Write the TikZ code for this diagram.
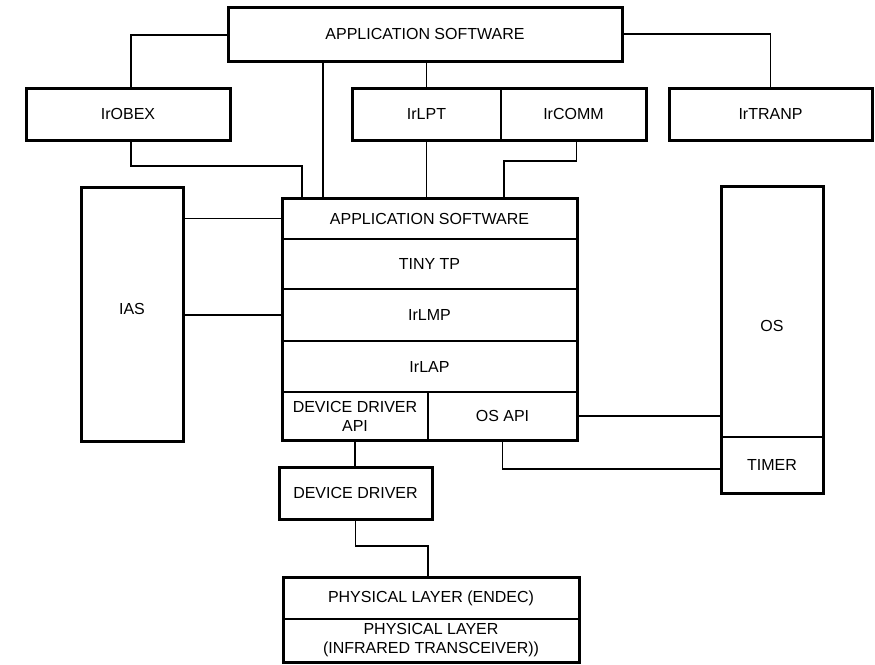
\documentclass[tikz,border=0pt]{standalone}
\usepackage{fontspec}
\setmainfont{Liberation Sans}
\usetikzlibrary{fit}
\begin{document}
\begin{tikzpicture}[x=1pt,y=-1pt,
  font=\fontsize{16}{19}\selectfont,
  cell/.style={draw, line width=1.1pt, inner sep=0pt, outer sep=0pt, align=center},
  thickbox/.style={draw, line width=3pt, inner sep=0pt, outer sep=0pt, align=center},
  outer/.style={draw, line width=3pt, inner sep=0pt, outer sep=0pt, fit=#1},
  link/.style={line width=1.3pt}]
\useasboundingbox (0,0) rectangle (875,664);
% top level
\node[thickbox, minimum width=394pt, minimum height=54pt] (app) at (425,34) {APPLICATION SOFTWARE};
\node[thickbox, minimum width=204pt, minimum height=52pt] (irobex) at (128,114) {IrOBEX};
\node[cell, minimum width=149pt, minimum height=52pt] (irlpt) at (426.5,114) {IrLPT};
\node[cell, minimum width=145pt, minimum height=52pt] (ircomm) at (573.5,114) {IrCOMM};
\node[outer={(irlpt)(ircomm)}] (irgrp) {};
\node[thickbox, minimum width=203pt, minimum height=52pt] (irtranp) at (770.5,114) {IrTRANP};
% IAS
\node[thickbox, minimum width=102pt, minimum height=254pt] (ias) at (132,314) {};
\node (iastext) at (132,309) {IAS};
% main stack
\node[cell, minimum width=295pt, minimum height=41pt] (mas) at (429.5,218.5) {APPLICATION SOFTWARE};
\node[cell, minimum width=295pt, minimum height=50pt] (tinytp) at (429.5,264) {TINY TP};
\node[cell, minimum width=295pt, minimum height=52pt] (irlmp) at (429.5,315) {IrLMP};
\node[cell, minimum width=295pt, minimum height=51pt] (irlap) at (429.5,366.5) {IrLAP};
\node[cell, minimum width=146pt, minimum height=48pt] (ddapi) at (355,416) {DEVICE DRIVER\\API};
\node[cell, minimum width=149pt, minimum height=48pt] (osapi) at (502.5,416) {OS API};
\node[outer={(mas)(osapi)(ddapi)}] (mainbox) {};
% OS
\node[cell, minimum width=102pt, minimum height=251pt] (os) at (772,311.5) {};
\node (ostext) at (772,326) {OS};
\node[cell, minimum width=102pt, minimum height=56pt] (timer) at (772,465) {TIMER};
\node[outer={(os)(timer)}] (osbox) {};
% device driver
\node[thickbox, minimum width=153pt, minimum height=52pt] (dd) at (355.5,493) {DEVICE DRIVER};
% physical
\node[cell, minimum width=296pt, minimum height=42pt] (phy1) at (431,598) {PHYSICAL LAYER (ENDEC)};
\node[cell, minimum width=296pt, minimum height=43pt] (phy2) at (431,640.5) {PHYSICAL LAYER\\(INFRARED TRANSCEIVER))};
\node[outer={(phy1)(phy2)}] (phybox) {};
% bend points
\coordinate (c1) at (323,0);
\coordinate (k1) at (302,166);
\coordinate (k2) at (504,161);
\coordinate (k3) at (503,469);
\coordinate (k4) at (428,546);
% connectors
\draw[link] ([yshift=-1pt]app.west) -| ([xshift=3pt]irobex.north);
\draw[link] (app.east) -| (irtranp.north);
\draw[link] (app.south -| c1) -- (mas.north -| c1);
\draw[link] (app.south -| irlpt.north) -- (irgrp.north -| irlpt.north);
\draw[link] (irgrp.south -| irlpt.south) -- (mas.north -| irlpt.south);
\draw[link] ([xshift=3pt]irobex.south) |- (k1) -- (k1 |- mas.north);
\draw[link] ([xshift=3pt]irgrp.south -| ircomm.south) |- (k2) -- (k2 |- mas.north);
\draw[link] (ias.east |- mas.west) -- (mas.west);
\draw[link] (ias.east |- irlmp.west) -- (irlmp.west);
\draw[link] (osapi.east) -- (osapi.east -| osbox.west);
\draw[link] (osapi.south) |- (k3 -| osbox.west);
\draw[link] (ddapi.south) -- (ddapi.south |- dd.north);
\draw[link] (dd.south) |- (k4) -- (k4 |- phybox.north);
\end{tikzpicture}
\end{document}
